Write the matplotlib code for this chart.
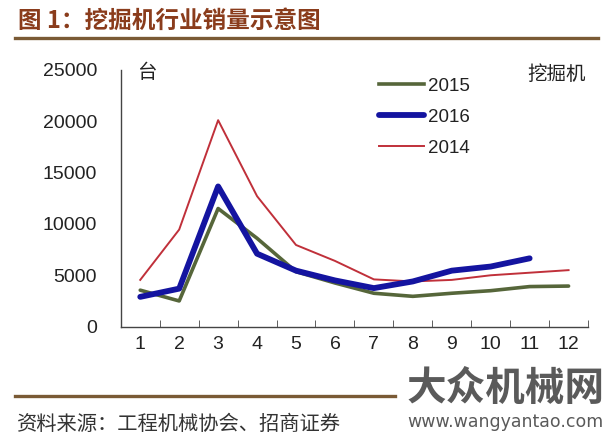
import matplotlib
matplotlib.use("Agg")
import matplotlib.pyplot as plt
from matplotlib.lines import Line2D

plt.rcParams['font.family'] = ['Liberation Sans', 'Noto Sans CJK SC', 'DejaVu Sans']

months = ["1", "2", "3", "4", "5", "6", "7", "8", "9", "10", "11", "12"]
sales_2015 = [3550, 2500, 11500, 8600, 5350, 4250, 3250, 2950, 3250, 3500, 3900, 3950]
sales_2016 = [2900, 3700, 13650, 7100, 5450, 4500, 3750, 4400, 5450, 5850, 6650]
sales_2014 = [4550, 9450, 20100, 12700, 7950, 6400, 4600, 4400, 4550, 5000, 5250, 5500]
yticks = [0, 5000, 10000, 15000, 20000, 25000]

c_2015 = "#56663a"
c_2016 = "#1414a0"
c_2014 = "#c0303a"
brown = "#7a5a35"
cjk = ["Noto Sans CJK SC", "DejaVu Sans"]

fig = plt.figure(figsize=(6.10, 4.42), dpi=100)
ax = fig.add_axes([0.198, 0.261, 0.766, 0.581])

x = list(range(len(months)))
ax.plot(x, sales_2015, color=c_2015, lw=2.6, solid_capstyle="round", zorder=3)
ax.plot(x[:len(sales_2016)], sales_2016, color=c_2016, lw=4.2, solid_capstyle="round", zorder=4)
ax.plot(x, sales_2014, color=c_2014, lw=1.4, zorder=2)

ax.set_xlim(-0.5, len(months) - 0.5)
ax.set_ylim(0, 25000)
ax.set_yticks(yticks)
ax.set_yticklabels([str(v) for v in yticks], fontsize=14, color="#222222")
ax.set_xticks(x)
ax.set_xticklabels(months, fontsize=14, color="#222222")
ax.tick_params(axis="y", length=0, pad=17)
ax.tick_params(axis="x", which="major", length=0, pad=7)
# category boundary ticks pointing inward
ax.set_xticks([i - 0.5 for i in range(len(months) + 1)], minor=True)
ax.tick_params(axis="x", which="minor", direction="in", length=5, color="#444444")
for s in ["top", "right"]:
    ax.spines[s].set_visible(False)
for s in ["left", "bottom"]:
    ax.spines[s].set_color("#444444")
    ax.spines[s].set_linewidth(1.0)

ax.text(0.035, 0.99, "台", transform=ax.transAxes, fontsize=14, va="center", ha="left",
        color="#222222")
ax.text(0.995, 0.98, "挖掘机", transform=ax.transAxes, fontsize=14, va="center", ha="right",
        color="#222222")

handles = [Line2D([], [], color=c_2015, lw=2.6),
           Line2D([], [], color=c_2016, lw=4.2, solid_capstyle="round"),
           Line2D([], [], color=c_2014, lw=1.4)]
ax.legend(handles, ["2015", "2016", "2014"], loc="upper left", bbox_to_anchor=(0.516, 1.036),
          frameon=False, fontsize=13.5, handlelength=2.4, handletextpad=0.2, labelspacing=0.75,
          labelcolor="#222222")

# header and footer
fig.text(0.029, 0.952, "图 1：挖掘机行业销量示意图", fontsize=17, fontweight="bold",
         color="#8a3c1c", family=cjk, va="center", ha="left")
fig.add_artist(Line2D([0.025, 0.980], [0.913, 0.913], color=brown, lw=2.4))
fig.add_artist(Line2D([0.025, 0.648], [0.104, 0.104], color=brown, lw=2.4))
fig.text(0.027, 0.039, "资料来源：工程机械协会、招商证券", fontsize=14.6, color="#333333",
         family=cjk, va="center", ha="left")
fig.text(0.829, 0.120, "大众机械网", fontsize=28.5, fontweight="bold", color="#5a5a5a",
         family=cjk, va="center", ha="center")
fig.text(0.829, 0.045, "www.wangyantao.com", fontsize=12.5, color="#5a5a5a",
         family=["DejaVu Sans"], va="center", ha="center")

fig.savefig("out.png", dpi=100)
